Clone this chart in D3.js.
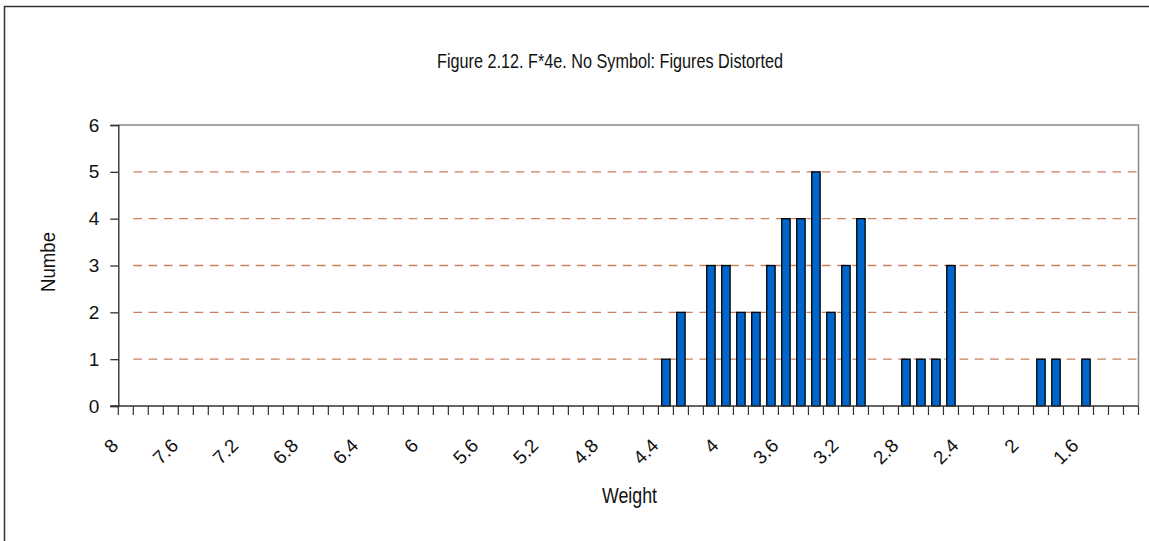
<!DOCTYPE html>
<html>
<head>
<meta charset="utf-8">
<script src="https://cdn.jsdelivr.net/npm/d3@7"></script>
<style>
  html, body { margin: 0; padding: 0; background: #ffffff; }
  svg { display: block; }
  text { fill: #111; }
</style>
</head>
<body>
<svg id="chart" width="1149" height="541"></svg>
<script>
// Weight categories, 8.0 down to 1.3 in steps of 0.1
const categories = [
  "8", "7.9", "7.8", "7.7", "7.6", "7.5", "7.4", "7.3", "7.2", "7.1",
  "7", "6.9", "6.8", "6.7", "6.6", "6.5", "6.4", "6.3", "6.2", "6.1",
  "6", "5.9", "5.8", "5.7", "5.6", "5.5", "5.4", "5.3", "5.2", "5.1",
  "5", "4.9", "4.8", "4.7", "4.6", "4.5", "4.4", "4.3", "4.2", "4.1",
  "4", "3.9", "3.8", "3.7", "3.6", "3.5", "3.4", "3.3", "3.2", "3.1",
  "3", "2.9", "2.8", "2.7", "2.6", "2.5", "2.4", "2.3", "2.2", "2.1",
  "2", "1.9", "1.8", "1.7", "1.6", "1.5", "1.4", "1.3"
];

// Number of figures at each weight
const counts = [
  0, 0, 0, 0, 0, 0, 0, 0, 0, 0,
  0, 0, 0, 0, 0, 0, 0, 0, 0, 0,
  0, 0, 0, 0, 0, 0, 0, 0, 0, 0,
  0, 0, 0, 0, 0, 0, 1, 2, 0, 3,
  3, 2, 2, 3, 4, 4, 5, 2, 3, 4,
  0, 0, 1, 1, 1, 3, 0, 0, 0, 0,
  0, 1, 1, 0, 1, 0, 0, 0
];

// Category labels shown on the x axis (every fourth weight)
const xTickLabels = ["8", "7.6", "7.2", "6.8", "6.4", "6", "5.6", "5.2", "4.8",
                     "4.4", "4", "3.6", "3.2", "2.8", "2.4", "2", "1.6"];
const yTicks = [0, 1, 2, 3, 4, 5, 6];

const titleText = "Figure 2.12. F*4e. No Symbol: Figures Distorted";
const xTitle = "Weight";
const yTitle = "Numbe";

const svg = d3.select("#chart");
const plot = { left: 118.3, right: 1138.5, top: 125, bottom: 406 };
const tickFont = "'Liberation Sans', Arial, sans-serif";
const titleFont = "'Liberation Sans Narrow', 'Liberation Sans', Arial, sans-serif";

const x = d3.scaleBand().domain(categories).range([plot.left, plot.right]).padding(0);
const y = d3.scaleLinear().domain([0, 6]).range([plot.bottom, plot.top]);

// Outer chart frame
svg.append("rect")
  .attr("x", 4.5).attr("y", 6.5)
  .attr("width", 1160).attr("height", 560)
  .attr("fill", "none").attr("stroke", "#333").attr("stroke-width", 1.5);

// Title
svg.append("text")
  .attr("x", 437).attr("y", 68)
  .attr("font-family", titleFont).attr("font-size", 21)
  .attr("textLength", 346).attr("lengthAdjust", "spacingAndGlyphs")
  .text(titleText);

// Horizontal dashed gridlines
svg.append("g").selectAll("line")
  .data(yTicks.filter(d => d > 0 && d < 6))
  .join("line")
  .attr("x1", plot.left + 15).attr("x2", plot.right)
  .attr("y1", d => y(d)).attr("y2", d => y(d))
  .attr("stroke", "#c8825f").attr("stroke-width", 1.4)
  .attr("stroke-dasharray", "8.7,6.6");

// Plot-area border (top and right)
svg.append("path")
  .attr("d", `M${plot.left},${plot.top}H${plot.right}V${plot.bottom}`)
  .attr("fill", "none").attr("stroke", "#888").attr("stroke-width", 1.5);

// Bars
const barW = x.bandwidth() * 0.56;
svg.append("g").selectAll("rect")
  .data(categories.map((c, i) => ({ c, v: counts[i] })).filter(d => d.v > 0))
  .join("rect")
  .attr("x", d => x(d.c) + (x.bandwidth() - barW) / 2)
  .attr("y", d => y(d.v))
  .attr("width", barW)
  .attr("height", d => y(0) - y(d.v))
  .attr("fill", "#0066cc")
  .attr("stroke", "#000").attr("stroke-width", 1.3);

// Y axis
const yAxis = d3.axisLeft(y).tickValues(yTicks).tickSize(8).tickPadding(11)
  .tickFormat(d3.format("d"));
const gy = svg.append("g").attr("transform", `translate(${plot.left},0)`).call(yAxis);
gy.select(".domain").attr("stroke", "#333").attr("stroke-width", 1.4);
gy.selectAll(".tick line").attr("stroke", "#333").attr("stroke-width", 1.3);
gy.selectAll(".tick text")
  .attr("font-family", tickFont).attr("font-size", 19).attr("fill", "#111");

// X axis: tick marks on category boundaries
const boundaries = d3.range(categories.length + 1).map(i => plot.left + i * x.step());
const gx = svg.append("g");
gx.append("line")
  .attr("x1", plot.left - 8).attr("x2", plot.right)
  .attr("y1", plot.bottom).attr("y2", plot.bottom)
  .attr("stroke", "#333").attr("stroke-width", 1.4);
gx.selectAll("line.tk").data(boundaries).join("line")
  .attr("class", "tk")
  .attr("x1", d => d).attr("x2", d => d)
  .attr("y1", plot.bottom).attr("y2", plot.bottom + 9)
  .attr("stroke", "#333").attr("stroke-width", 1.2);

// X tick labels, rotated
gx.selectAll("text").data(xTickLabels).join("text")
  .attr("transform", d => `translate(${x(d) + x.bandwidth() / 2 - 11},442) rotate(-45)`)
  .attr("text-anchor", "end").attr("dy", "0.35em")
  .attr("font-family", tickFont).attr("font-size", 19)
  .text(d => d);

// Axis titles
svg.append("text")
  .attr("x", 602).attr("y", 503)
  .attr("font-family", titleFont).attr("font-size", 22)
  .attr("textLength", 55).attr("lengthAdjust", "spacingAndGlyphs")
  .text(xTitle);

svg.append("text")
  .attr("transform", "translate(55,292) rotate(-90)")
  .attr("font-family", titleFont).attr("font-size", 20)
  .attr("textLength", 60).attr("lengthAdjust", "spacingAndGlyphs")
  .text(yTitle);
</script>
</body>
</html>
